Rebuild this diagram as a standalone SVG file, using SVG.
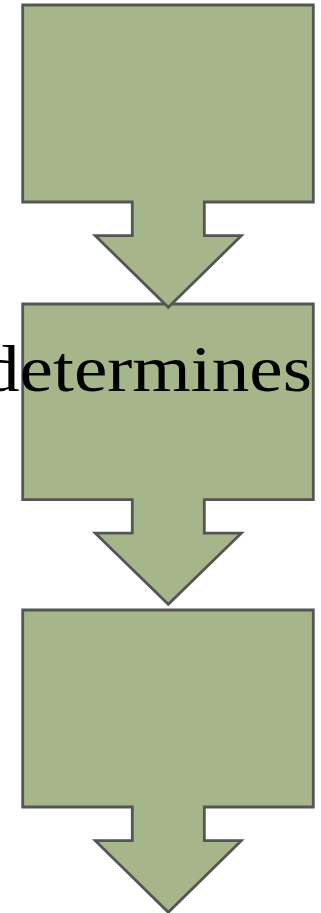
<svg xmlns="http://www.w3.org/2000/svg" width="321" height="913" viewBox="0 0 321 913">
  <style>
    .shape { fill: #a7b68a; stroke: #555555; stroke-width: 2.8; stroke-linejoin: miter; }
    .label { font-family: "Liberation Serif", "Times New Roman", serif; font-size: 66px; fill: #000000; }
  </style>
  <defs>
    <path id="callout" d="M0,0 H290.6 V197 H181.6 V230.7 H218.6 L145.6,302.3 L72.6,230.7 H109.6 V197 H0 Z"/>
  </defs>
  <g id="connectors"/>
  <g id="node3">
    <use href="#callout" class="shape" transform="translate(22.7,610)"/>
  </g>
  <g id="node2">
    <use href="#callout" class="shape" transform="translate(22.7,304) scale(1,0.9934)"/>
    <text class="label" x="-18" y="390.5" textLength="330" lengthAdjust="spacingAndGlyphs">determines</text>
  </g>
  <g id="node1">
    <use href="#callout" class="shape" transform="translate(22.7,5)"/>
  </g>
</svg>
